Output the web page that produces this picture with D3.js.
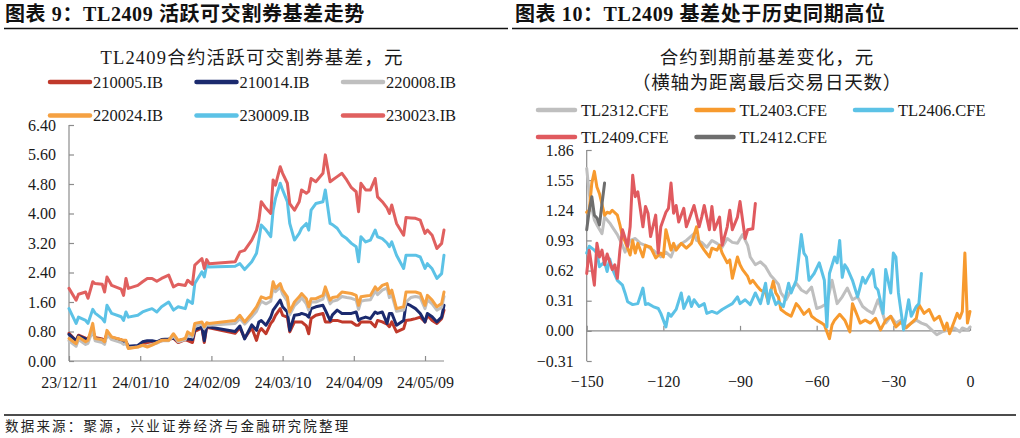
<!DOCTYPE html>
<html><head><meta charset="utf-8">
<script src="https://cdn.jsdelivr.net/npm/d3@7"></script>
<style>
html,body{margin:0;padding:0;background:#fff;}
svg{display:block;}
</style></head>
<body><svg id="c" width="1020" height="438"></svg>
<script>
// ---------- Left chart data ----------
const leftDates = ["2023-12-11","2023-12-14","2023-12-15","2023-12-18","2023-12-19","2023-12-21","2023-12-22","2023-12-25","2023-12-26","2023-12-27","2023-12-29",
"2024-01-02","2024-01-03","2024-01-04","2024-01-05","2024-01-09","2024-01-11","2024-01-13","2024-01-15","2024-01-17","2024-01-19","2024-01-22","2024-01-24","2024-01-26","2024-01-29","2024-01-30",
"2024-02-01","2024-02-02","2024-02-05","2024-02-06","2024-02-07","2024-02-08","2024-02-19","2024-02-21","2024-02-23","2024-02-26","2024-02-28","2024-02-29",
"2024-03-01","2024-03-03","2024-03-05","2024-03-06","2024-03-07","2024-03-09","2024-03-10","2024-03-12","2024-03-13","2024-03-15","2024-03-17","2024-03-18","2024-03-20","2024-03-21","2024-03-22","2024-03-24","2024-03-27","2024-03-28","2024-03-30","2024-03-31",
"2024-04-02","2024-04-04","2024-04-06","2024-04-08","2024-04-10","2024-04-11","2024-04-12","2024-04-14","2024-04-16","2024-04-18","2024-04-19","2024-04-21","2024-04-23","2024-04-24","2024-04-25","2024-04-27","2024-04-30",
"2024-05-01","2024-05-03","2024-05-05","2024-05-07","2024-05-09","2024-05-10","2024-05-12","2024-05-14","2024-05-16","2024-05-17"];
const s230023 = [1.97,1.65,1.81,1.87,1.70,2.15,2.10,2.08,1.87,2.28,2.05,
1.95,1.78,2.24,1.97,2.05,2.15,2.24,2.24,2.16,2.24,2.33,2.01,2.08,2.05,2.19,
2.08,2.60,2.78,2.51,2.75,2.64,2.69,2.96,3.00,3.28,3.55,3.82,
4.32,4.14,4.00,4.91,4.77,5.27,5.09,4.82,4.27,4.09,4.32,4.64,4.55,4.60,4.95,4.86,5.09,5.59,4.86,4.91,
5.00,5.09,4.91,4.70,4.59,4.05,4.82,4.64,4.64,4.95,4.45,4.32,4.15,4.00,4.23,3.73,3.41,
3.89,3.88,3.87,3.82,3.46,3.55,3.41,3.05,3.19,3.55];
const s230009 = [1.42,1.02,1.19,1.10,1.02,1.40,1.30,1.15,1.06,1.51,1.29,
1.20,1.10,1.33,1.19,1.24,1.33,1.38,1.42,1.33,1.47,1.60,1.38,1.47,1.42,1.65,
1.56,2.10,2.42,2.28,2.60,2.55,2.57,2.64,2.48,2.69,2.92,3.28,
3.69,3.55,3.37,4.09,4.41,4.82,4.64,4.32,3.73,3.28,3.46,3.60,3.73,3.55,4.09,4.27,4.32,4.64,3.73,3.70,
3.60,3.41,3.32,3.19,3.10,2.69,3.37,3.23,3.28,3.55,3.37,3.32,3.20,3.10,3.23,2.87,2.51,
2.87,2.87,2.87,2.82,2.51,2.64,2.50,2.24,2.37,2.87];
const s220024 = [0.61,0.47,0.65,0.52,0.56,1.02,0.61,0.58,0.52,0.83,0.65,
0.58,0.56,0.56,0.34,0.38,0.43,0.38,0.43,0.50,0.56,0.56,0.74,0.56,0.61,0.79,
0.70,1.02,1.06,0.93,1.04,1.02,1.10,1.24,1.06,1.29,1.47,1.60,
1.74,1.69,1.74,2.15,1.97,2.10,1.92,1.74,1.33,1.60,1.74,1.83,1.69,1.47,1.69,1.69,1.78,2.01,1.65,1.72,
1.74,1.87,1.85,1.83,1.78,1.51,1.74,1.76,1.78,2.01,1.92,2.05,2.10,1.83,1.92,1.42,1.47,
1.87,1.87,1.87,1.83,1.51,1.78,1.65,1.47,1.56,1.87];
const s220008 = [0.55,0.40,0.58,0.45,0.48,0.85,0.55,0.50,0.45,0.72,0.58,
0.50,0.45,0.48,0.35,0.38,0.42,0.40,0.45,0.48,0.55,0.55,0.68,0.52,0.58,0.72,
0.65,0.95,1.00,0.88,0.98,0.97,1.02,1.15,1.00,1.20,1.35,1.50,
1.62,1.55,1.62,2.00,1.88,2.00,1.82,1.62,1.25,1.50,1.62,1.72,1.55,1.38,1.60,1.60,1.68,1.90,1.55,1.62,
1.65,1.75,1.72,1.70,1.65,1.40,1.62,1.65,1.66,1.90,1.80,1.92,1.98,1.72,1.80,1.35,1.38,
1.60,1.72,1.75,1.72,1.42,1.66,1.55,1.38,1.45,1.75];
const s210014 = [0.72,0.55,0.68,0.60,0.58,0.80,0.62,0.58,0.52,0.72,0.62,
0.55,0.50,0.52,0.40,0.42,0.52,0.55,0.55,0.52,0.58,0.60,0.62,0.55,0.60,0.60,
0.58,0.85,0.92,0.55,0.95,0.92,0.80,0.95,0.60,0.98,0.83,1.06,
1.10,0.97,1.19,1.38,1.47,1.65,1.47,1.33,0.83,1.24,1.26,1.29,1.25,1.19,1.42,1.47,1.51,1.38,1.10,1.25,
1.38,1.29,1.29,1.29,1.33,1.10,1.15,1.19,1.15,1.33,1.29,1.33,1.02,1.29,1.29,0.97,1.10,
1.56,1.50,1.42,1.29,1.06,1.29,1.20,1.06,1.19,1.51];
const s210005 = [0.75,0.55,0.70,0.62,0.60,0.82,0.64,0.60,0.55,0.75,0.64,
0.58,0.50,0.50,0.38,0.40,0.45,0.50,0.52,0.50,0.55,0.58,0.62,0.50,0.58,0.55,
0.50,0.80,0.90,0.50,0.92,0.90,0.75,0.90,0.62,0.90,0.56,0.79,
0.88,0.74,1.02,1.10,1.24,1.42,1.24,1.19,0.79,1.06,1.06,1.06,0.95,0.74,1.15,1.24,1.29,1.06,1.06,1.10,
1.10,1.06,1.06,1.06,0.97,0.97,1.06,1.06,1.06,0.93,1.10,1.06,1.00,0.93,1.06,0.79,0.88,
1.10,1.12,1.15,1.19,1.06,1.24,1.10,1.02,1.15,1.38];
const leftNames = ["210005.IB","210014.IB","220008.IB","220024.IB","230009.IB","230023.IB"];
const leftColors = ["#C0392B","#1B2A6E","#BFBFBF","#F5A142","#5CC2E6","#E0605F"];
const leftYTicks = [0,0.8,1.6,2.4,3.2,4.0,4.8,5.6,6.4];
const leftXTicks = ["2023-12-11","2024-01-10","2024-02-09","2024-03-10","2024-04-09","2024-05-09"];

// ---------- Right chart data ----------
const tl2312Days = [-150,-149,-148,-147,-146,-144,-143,-141,-140,-138,-136,-135,-133,-131,-129,-127,-124,-121,-119,-117,-116,-114,-111,-108,-107,-105,-103,-101,-99,-97,-95,-93,-91,-89,-87,-86,-84,-82,-80,-78,-77,-75,-74,-72,-70,-68,-66,-64,-62,-60,-58,-56,-54,-52,-50,-48,-46,-44,-42,-40,-38,-36,-35,-33,-31,-29,-27,-25,-23,-21,-19,-17,-15,-13,-11,-8,-6,-4,-3,-1,0];
const tl2312Vals = [1.67,1.41,1.26,1.14,1.09,1.00,1.17,1.11,1.07,0.99,0.88,0.81,0.93,0.95,0.90,0.88,0.83,0.76,0.81,0.76,0.83,0.88,0.93,1.00,0.93,0.91,0.86,0.93,0.90,0.86,0.95,0.91,0.90,0.99,0.88,0.76,0.68,0.71,0.66,0.57,0.54,0.48,0.39,0.32,0.42,0.49,0.42,0.39,0.45,0.23,0.25,0.28,0.52,0.28,0.35,0.44,0.32,0.35,0.25,0.21,0.18,0.32,0.25,0.08,0.15,0.08,0.11,0.04,0.08,0.11,0.08,0.06,0.01,-0.04,-0.01,0.01,0.03,-0.01,0.03,0.01,0.04];
const tl2403Days = [-150,-149,-148,-147,-146,-145,-143,-142,-141,-140,-138,-137,-136,-135,-133,-132,-131,-130,-128,-127,-125,-123,-121,-120,-119,-117,-116,-115,-113,-111,-109,-107,-106,-104,-102,-101,-99,-98,-97,-95,-94,-93,-91,-90,-89,-87,-86,-85,-83,-82,-80,-79,-77,-76,-75,-74,-72,-70,-68,-67,-65,-63,-62,-60,-58,-57,-55,-54,-53,-51,-49,-47,-46,-44,-43,-41,-39,-37,-35,-33,-31,-29,-27,-25,-23,-21,-20,-18,-16,-14,-12,-10,-9,-8,-6,-5,-4,-3,-2,-1,0];
const tl2403Vals = [1.22,1.24,1.52,1.64,1.48,1.41,1.19,1.22,1.21,1.24,1.19,1.09,0.97,0.92,0.78,0.93,0.80,0.90,0.76,0.88,0.86,0.75,0.80,0.76,1.04,0.83,0.90,0.83,0.90,0.85,0.90,1.07,0.91,0.83,0.76,0.85,0.83,0.88,0.80,0.70,0.73,0.54,0.76,0.68,0.63,0.56,0.49,0.52,0.45,0.42,0.39,0.30,0.51,0.39,0.35,0.22,0.18,0.15,0.28,0.25,0.17,0.22,0.15,0.11,0.08,0.06,-0.08,0.06,0.11,0.17,0.11,-0.01,0.28,0.15,0.08,0.11,0.08,0.13,0.01,0.11,0.15,0.04,0.09,0.03,0.08,0.13,0.27,0.18,0.22,0.11,0.15,0.01,0.08,-0.03,0.11,0.18,0.13,0.20,0.80,0.08,0.20];
const tl2406Days = [-150,-149,-147,-146,-145,-143,-142,-141,-140,-138,-136,-135,-134,-132,-130,-128,-127,-126,-124,-122,-121,-119,-118,-117,-115,-113,-112,-110,-109,-108,-106,-104,-103,-101,-99,-97,-95,-93,-91,-90,-88,-86,-84,-82,-80,-79,-78,-76,-75,-73,-71,-70,-68,-66,-65,-64,-63,-61,-59,-57,-56,-55,-53,-52,-51,-50,-49,-48,-46,-44,-42,-41,-40,-38,-37,-36,-34,-33,-31,-30,-29,-28,-26,-24,-23,-21,-20,-19];
const tl2406Vals = [0.80,0.87,0.83,0.80,0.66,0.71,0.61,0.74,0.64,0.52,0.47,0.39,0.30,0.27,0.28,0.44,0.27,0.28,0.25,0.23,0.18,0.04,0.18,0.15,0.22,0.39,0.23,0.35,0.25,0.32,0.25,0.28,0.18,0.20,0.18,0.22,0.25,0.28,0.35,0.28,0.32,0.27,0.39,0.28,0.49,0.28,0.42,0.27,0.30,0.25,0.49,0.39,0.52,0.99,0.80,0.76,0.52,0.59,0.70,0.52,0.04,0.59,0.76,0.70,0.93,0.55,0.68,0.64,0.52,0.35,0.55,0.49,0.54,0.63,0.45,0.42,0.18,0.63,0.39,0.80,0.76,0.39,0.01,0.32,0.15,0.25,0.28,0.59];
const tl2409Days = [-150,-149,-147,-146,-145,-144,-143,-142,-140,-139,-138,-137,-136,-134,-133,-132,-131,-130,-128,-127,-126,-125,-123,-122,-121,-119,-118,-117,-116,-115,-114,-112,-111,-110,-108,-106,-105,-104,-102,-101,-100,-98,-97,-95,-94,-93,-91,-90,-88,-87,-85,-84];
const tl2409Vals = [0.59,0.83,0.47,0.90,0.76,0.83,0.68,0.79,0.63,0.68,0.54,0.83,1.04,0.87,1.07,1.60,1.38,1.43,1.07,1.28,1.21,0.97,1.19,0.80,1.07,1.22,1.26,1.52,1.21,1.29,1.12,1.26,1.07,1.14,1.29,1.07,1.17,1.29,1.04,1.28,1.04,1.17,0.88,1.07,1.24,1.04,1.17,1.33,0.95,1.04,1.05,1.31];
const tl2412Days = [-150,-149,-148,-147,-146,-145,-144,-143];
const tl2412Vals = [1.04,1.24,1.38,1.19,1.16,1.09,1.31,1.52];
const rightNames = ["TL2312.CFE","TL2403.CFE","TL2406.CFE","TL2409.CFE","TL2412.CFE"];
const rightColors = ["#BFBFBF","#F79A2E","#5CC2E6","#E05A5F","#6E6E6E"];
const rightYTicks = [-0.31,0,0.31,0.62,0.93,1.24,1.55,1.86];
const rightXTicks = [-150,-120,-90,-60,-30,0];

// ---------- Drawing ----------
const svg = d3.select("#c");
svg.append("rect").attr("width",1020).attr("height",438).attr("fill","#fff");
const serif = "'Liberation Serif','Times New Roman','Noto Sans CJK SC',serif";
const cjk = "'Liberation Serif','Noto Sans CJK SC',sans-serif";
const axisColor = "#8c8c8c";
const textColor = "#1a1a1a";

// Headers
svg.append("text").attr("x",5).attr("y",21).attr("font-family",cjk).attr("font-weight","bold")
  .attr("font-size",20).attr("letter-spacing",0.6).attr("fill","#111").text("图表 9：TL2409 活跃可交割券基差走势");
svg.append("text").attr("x",515).attr("y",21).attr("font-family",cjk).attr("font-weight","bold")
  .attr("font-size",20).attr("letter-spacing",0.6).attr("fill","#111").text("图表 10：TL2409 基差处于历史同期高位");
svg.append("line").attr("x1",4).attr("x2",508).attr("y1",28.5).attr("y2",28.5).attr("stroke","#111").attr("stroke-width",1.5);
svg.append("line").attr("x1",512).attr("x2",1018).attr("y1",28.5).attr("y2",28.5).attr("stroke","#111").attr("stroke-width",1.5);
svg.append("line").attr("x1",4).attr("x2",1016).attr("y1",415).attr("y2",415).attr("stroke","#111").attr("stroke-width",1.5);
svg.append("text").attr("x",5).attr("y",431).attr("font-family",cjk).attr("font-size",13.5)
  .attr("letter-spacing",2.2).attr("fill","#222").text("数据来源：聚源，兴业证券经济与金融研究院整理");

// Left chart
const parse = d3.timeParse("%Y-%m-%d");
const lx = d3.scaleTime().domain([parse("2023-12-11"), parse("2024-05-17")]).range([69, 444]);
const ly = d3.scaleLinear().domain([0, 6.4]).range([361, 125]);
svg.append("text").attr("x",252).attr("y",64).attr("text-anchor","middle").attr("font-family",cjk)
  .attr("font-size",18.5).attr("letter-spacing",1.2).attr("fill",textColor).text("TL2409合约活跃可交割券基差，元");

const gL = svg.append("g");
const yAxL = d3.axisLeft(ly).tickValues(leftYTicks).tickFormat(d3.format(".2f")).tickSize(-5).tickPadding(13);
const gyl = gL.append("g").attr("transform","translate(69,0)").call(yAxL);
const xAxL = d3.axisBottom(lx).tickValues(leftXTicks.map(parse)).tickFormat(d3.timeFormat("%y/%m/%d")).tickSize(-5).tickPadding(16);
const gxl = gL.append("g").attr("transform","translate(0,361)").call(xAxL);
[gyl,gxl].forEach(g=>{
  g.select(".domain").attr("stroke",axisColor).attr("stroke-width",1.2);
  g.selectAll(".tick line").attr("stroke",axisColor).attr("stroke-width",1.2);
  g.selectAll(".tick text").attr("font-family",serif).attr("font-size",16).attr("fill",textColor);
});
gyl.select(".domain").attr("d","M0,361V125");
gxl.select(".domain").attr("d","M69,0H444");

const leftSeries = [s210005,s210014,s220008,s220024,s230009,s230023];
const lineL = d3.line().x((d,i)=>lx(parse(leftDates[i]))).y(d=>ly(d));
leftSeries.forEach((s,k)=>{
  gL.append("path").attr("d",lineL(s)).attr("fill","none").attr("stroke",leftColors[k])
    .attr("stroke-width",3).attr("stroke-linejoin","round").attr("stroke-linecap","round");
});
// Left legend
leftNames.forEach((n,i)=>{
  const col=i%3,row=Math.floor(i/3);
  const x0=50+col*146.5,y0=82+row*33.5;
  svg.append("line").attr("x1",x0).attr("x2",x0+40).attr("y1",y0).attr("y2",y0)
    .attr("stroke",leftColors[i]).attr("stroke-width",4.5).attr("stroke-linecap","round");
  svg.append("text").attr("x",x0+43).attr("y",y0+5.5).attr("font-family",serif).attr("font-size",16.5)
    .attr("fill",textColor).text(n);
});

// Right chart
const rx = d3.scaleLinear().domain([-150,0]).range([586.7,970]);
const ry = d3.scaleLinear().domain([-0.31,1.86]).range([361,150]);
svg.append("text").attr("x",767).attr("y",64).attr("text-anchor","middle").attr("font-family",cjk)
  .attr("font-size",18.5).attr("letter-spacing",1).attr("fill",textColor).text("合约到期前基差变化，元");
svg.append("text").attr("x",767).attr("y",89).attr("text-anchor","middle").attr("font-family",cjk)
  .attr("font-size",18.5).attr("letter-spacing",0.8).attr("fill",textColor).text("（横轴为距离最后交易日天数）");

const gR = svg.append("g");
const yAxR = d3.axisLeft(ry).tickValues(rightYTicks).tickFormat(d3.format(".2f")).tickSize(-5).tickPadding(13);
const gyr = gR.append("g").attr("transform","translate(586.7,0)").call(yAxR);
const xAxR = d3.axisBottom(rx).tickValues(rightXTicks).tickFormat(d3.format("d")).tickSize(-5).tickPadding(0);
const gxr = gR.append("g").attr("transform",`translate(0,${ry(0)})`).call(xAxR);
[gyr,gxr].forEach(g=>{
  g.select(".domain").attr("stroke",axisColor).attr("stroke-width",1.2);
  g.selectAll(".tick line").attr("stroke",axisColor).attr("stroke-width",1.2);
  g.selectAll(".tick text").attr("font-family",serif).attr("font-size",16).attr("fill",textColor);
});
gyr.select(".domain").attr("d","M0,361V150");
gxr.select(".domain").attr("d","M586.7,0H970");
gxr.selectAll(".tick text").attr("y", 387 - ry(0)).attr("dy","0");

const rightSeries = [[tl2312Days,tl2312Vals],[tl2403Days,tl2403Vals],[tl2406Days,tl2406Vals],[tl2409Days,tl2409Vals],[tl2412Days,tl2412Vals]];
rightSeries.forEach(([xs,vs],k)=>{
  const ln = d3.line().x((d,i)=>rx(xs[i])).y(d=>ry(d));
  gR.append("path").attr("d",ln(vs)).attr("fill","none").attr("stroke",rightColors[k])
    .attr("stroke-width",3).attr("stroke-linejoin","round").attr("stroke-linecap","round");
});
rightNames.forEach((n,i)=>{
  const col=i%3,row=Math.floor(i/3);
  const x0=538+col*158.5,y0=110+row*27;
  svg.append("line").attr("x1",x0).attr("x2",x0+37).attr("y1",y0).attr("y2",y0)
    .attr("stroke",rightColors[i]).attr("stroke-width",4.5).attr("stroke-linecap","round");
  svg.append("text").attr("x",x0+43).attr("y",y0+5.5).attr("font-family",serif).attr("font-size",16.5)
    .attr("fill",textColor).text(n);
});
</script></body></html>
